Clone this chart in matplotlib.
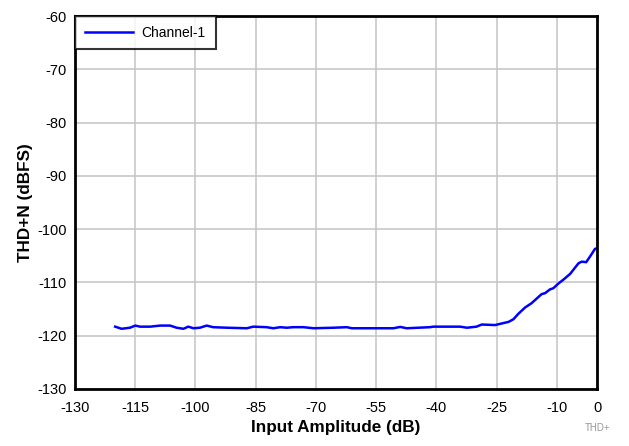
import matplotlib
matplotlib.use("Agg")
import matplotlib.pyplot as plt

plt.rcParams['font.family'] = ['Liberation Sans', 'DejaVu Sans']

# Data
amp = [-120.0, -118.4, -116.3, -115.0, -113.8, -111.3, -108.8, -106.3, -104.7, -103.0,
       -101.8, -100.5, -98.9, -97.2, -95.6, -92.2, -87.2, -85.6, -82.3, -80.6,
       -78.9, -77.3, -75.6, -73.1, -70.6, -65.6, -62.3, -61.1, -57.4, -54.0,
       -50.7, -49.0, -47.4, -41.6, -40.8, -34.1, -32.4, -30.0, -28.7, -25.4,
       -23.7, -22.0, -20.8, -19.6, -17.9, -16.3, -13.8, -12.9, -11.7, -10.9,
       -9.6, -8.4, -6.7, -4.6, -3.8, -2.7, -1.7, -0.5, 0.0]
thdn = [-118.3, -118.7, -118.5, -118.1, -118.3, -118.3, -118.1, -118.1, -118.5, -118.7,
        -118.3, -118.6, -118.5, -118.1, -118.4, -118.5, -118.6, -118.3, -118.4, -118.6,
        -118.4, -118.5, -118.4, -118.4, -118.6, -118.5, -118.4, -118.6, -118.6, -118.6,
        -118.6, -118.35, -118.6, -118.4, -118.3, -118.3, -118.5, -118.3, -117.9, -118.0,
        -117.7, -117.4, -116.9, -115.9, -114.7, -113.9, -112.2, -112.0, -111.3, -111.1,
        -110.2, -109.5, -108.4, -106.4, -106.1, -106.2, -105.1, -103.7, -103.6]

xticks = [-130, -115, -100, -85, -70, -55, -40, -25, -10, 0]
yticks = [-130, -120, -110, -100, -90, -80, -70, -60]

fig = plt.figure(figsize=(6.29, 4.46), dpi=100)
ax = fig.add_axes([75/629, 1-389/446, 522/629, 373/446])

ax.plot(amp, thdn, color='#0000ff', lw=1.8, label='Channel-1')
ax.set_xlim(-130, 0)
ax.set_ylim(-130, -60)
ax.set_xticks(xticks)
ax.set_yticks(yticks)
ax.set_xticklabels([str(t) for t in xticks])
ax.set_yticklabels([str(t) for t in yticks])
ax.tick_params(length=0, labelsize=10.5)
ax.tick_params(axis='x', pad=9)
ax.tick_params(axis='y', pad=6)
ax.grid(True, color='#c8c8c8', lw=1.2)
ax.set_axisbelow(True)
for s in ax.spines.values():
    s.set_linewidth(2)
    s.set_color('black')

ax.set_xlabel('Input Amplitude (dB)', fontsize=12.3, fontweight='bold', labelpad=3)
ax.set_ylabel('THD+N (dBFS)', fontsize=12.3, fontweight='bold', labelpad=3)

leg = ax.legend(loc='upper left', bbox_to_anchor=(0, 1), borderaxespad=0,
                fancybox=False, frameon=True, fontsize=10, handlelength=3.5,
                handletextpad=0.6, borderpad=0.7)
leg.get_frame().set_edgecolor('black')
leg.get_frame().set_linewidth(1.5)

fig.text(598/629, 1-428/446, 'THD+', fontsize=7, color='#999999', ha='center', va='center')

fig.savefig('out.png', dpi=100)
